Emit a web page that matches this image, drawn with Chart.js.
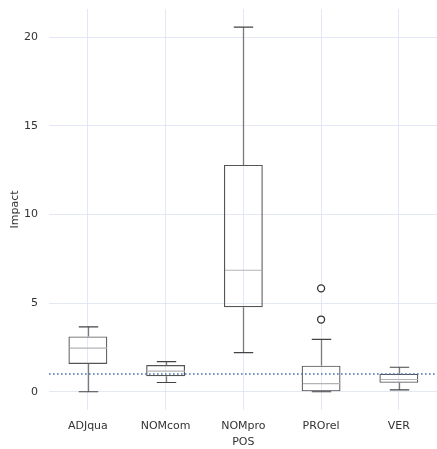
<!DOCTYPE html>
<html>
<head>
<meta charset="utf-8">
<script src="https://cdn.jsdelivr.net/npm/chart.js@4/dist/chart.umd.min.js"></script>
<style>
  html, body { margin: 0; padding: 0; background: #fff; overflow: hidden; }
  canvas { display: block; }
</style>
</head>
<body>
<canvas id="chart-box" width="443" height="449"></canvas>
<script>
// box plot values
const categories = ['ADJqua', 'NOMcom', 'NOMpro', 'PROrel', 'VER'];
const whiskerLow = [0, 0.52, 2.20, 0, 0.11];
const q1 = [1.57, 0.88, 4.76, 0, 0.50];
const median = [2.46, 1.16, 6.85, 0.46, 0.69];
const q3 = [3.12, 1.51, 12.79, 1.47, 1.01];
const whiskerHigh = [3.66, 1.70, 20.56, 2.95, 1.38];
const outlierCats = ['PROrel', 'PROrel'];
const outlierValues = [5.83, 4.07];
const referenceValue = 1;
const yTicks = [0, 5, 10, 15, 20];

const FONT = 'DejaVu Sans';
const TEXT = '#333333';

// whiskers, caps, medians and the dotted reference line
const boxExtras = {
    id: 'boxExtras',
    afterDatasetsDraw(chart) {
        const ctx = chart.ctx;
        const x = chart.scales.x;
        const y = chart.scales.y;
        const step = x.getPixelForValue(1) - x.getPixelForValue(0);
        const capHalf = step * 0.125;
        const boxHalf = step * 0.25;
        ctx.save();
        categories.forEach((c, i) => {
            const cx = Math.round(x.getPixelForValue(i)) + 0.5;
            const yq1 = y.getPixelForValue(q1[i]);
            const yq3 = y.getPixelForValue(q3[i]);
            const ylo = y.getPixelForValue(whiskerLow[i]);
            const yhi = y.getPixelForValue(whiskerHigh[i]);
            // whisker stems
            ctx.strokeStyle = '#7a7a7a';
            ctx.lineWidth = 1.3;
            ctx.beginPath();
            ctx.moveTo(cx, yq3); ctx.lineTo(cx, yhi);
            ctx.moveTo(cx, yq1); ctx.lineTo(cx, ylo);
            ctx.stroke();
            // caps
            ctx.strokeStyle = '#444444';
            ctx.lineWidth = 1.2;
            ctx.beginPath();
            ctx.moveTo(cx - capHalf, yhi); ctx.lineTo(cx + capHalf, yhi);
            ctx.moveTo(cx - capHalf, ylo); ctx.lineTo(cx + capHalf, ylo);
            ctx.stroke();
            // median
            const ym = y.getPixelForValue(median[i]);
            ctx.strokeStyle = '#b4b4b4';
            ctx.lineWidth = 1.2;
            ctx.beginPath();
            ctx.moveTo(cx - boxHalf + 1, ym); ctx.lineTo(cx + boxHalf - 1, ym);
            ctx.stroke();
        });
        // reference line
        const yr = y.getPixelForValue(referenceValue);
        ctx.strokeStyle = '#4c72b0';
        ctx.lineWidth = 1.6;
        ctx.setLineDash([1.6, 2.4]);
        ctx.beginPath();
        ctx.moveTo(chart.chartArea.left, yr);
        ctx.lineTo(chart.chartArea.right, yr);
        ctx.stroke();
        ctx.restore();
    }
};

const ctx = document.getElementById('chart-box').getContext('2d');
new Chart(ctx, {
    type: 'bar',
    data: {
        labels: categories,
        datasets: [{
            type: 'bar',
            data: q1.map((v, i) => [v, q3[i]]),
            backgroundColor: 'rgba(255,255,255,0)',
            borderColor: '#555555',
            borderWidth: 1.2,
            borderSkipped: false,
            barPercentage: 0.5,
            categoryPercentage: 1
        }, {
            type: 'line',
            data: outlierCats.map((c, i) => ({ x: c, y: outlierValues[i] })),
            showLine: false,
            pointStyle: 'circle',
            pointRadius: 3.5,
            pointBorderWidth: 1.3,
            pointBorderColor: '#333333',
            pointBackgroundColor: '#ffffff'
        }]
    },
    options: {
        responsive: false,
        animation: false,
        devicePixelRatio: 1,
        layout: { padding: { top: 9, right: 1, left: 0, bottom: 0 } },
        plugins: { legend: { display: false }, tooltip: { enabled: false } },
        scales: {
            x: {
                offset: true,
                grid: { offset: false, color: '#dde2f2', lineWidth: 0.8, drawTicks: false },
                border: { display: false },
                ticks: { color: TEXT, font: { family: FONT, size: 11 }, padding: 10 },
                title: { display: true, text: 'POS', color: TEXT, font: { family: FONT, size: 11 }, padding: { top: 0, bottom: 0 } },
                afterFit(scale) {
                    scale.height = 39;
                    scale.paddingLeft = 0;
                    scale.paddingRight = 0;
                }
            },
            y: {
                min: -1.03,
                max: 21.58,
                afterBuildTicks(scale) { scale.ticks = yTicks.map(v => ({ value: v })); },
                grid: { color: '#dde2f2', lineWidth: 0.8, drawTicks: false },
                border: { display: false },
                ticks: { color: TEXT, font: { family: FONT, size: 11 }, padding: 11 },
                title: { display: true, text: 'Impact', color: TEXT, font: { family: FONT, size: 11 }, padding: { top: 9, bottom: 0 } },
                afterFit(scale) {
                    scale.width = 49;
                    scale.paddingTop = 0;
                    scale.paddingBottom = 0;
                }
            }
        }
    },
    plugins: [boxExtras]
});
</script>
</body>
</html>
